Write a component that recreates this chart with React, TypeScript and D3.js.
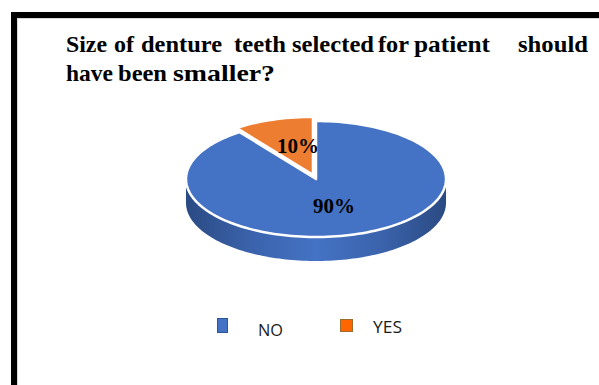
import React from "react";
import * as d3 from "d3";

const categories = ["NO", "YES"];
const values = [90, 10];
const labels = ["90%", "10%"];
const colors = ["#4472C4", "#ED7D31"];
const titleLine1 = ["Size", "of", "denture", "teeth", "selected", "for", "patient", "should"];
const titleLine1X = [66, 114, 141, 234, 292, 378, 414, 518];
const titleLine1W = [41, 20, 81, 52, 82, 31, 76, 70];
const titleLine2 = ["have", "been", "smaller?"];
const titleLine2X = [66, 118, 173];
const titleLine2W = [47, 49, 102];

const W = 599;
const H = 385;
const cx = 316;
const cy = 179;
const rx = 130;
const ry = 58;
const depth = 24;

function ellPt(a: number, ox: number, oy: number, dy = 0): [number, number] {
  return [cx + ox + rx * Math.sin(a), cy + oy + dy - ry * Math.cos(a)];
}

function topPath(a0: number, a1: number, ox: number, oy: number): string {
  const p = d3.path();
  p.moveTo(cx + ox, cy + oy);
  const n = Math.max(8, Math.ceil(((a1 - a0) / (2 * Math.PI)) * 180));
  for (let i = 0; i <= n; i++) {
    const a = a0 + ((a1 - a0) * i) / n;
    const [x, y] = ellPt(a, ox, oy);
    p.lineTo(x, y);
  }
  p.closePath();
  return p.toString();
}

function sidePath(a0: number, a1: number, ox: number, oy: number): string | null {
  const s = Math.max(a0, Math.PI / 2);
  const e = Math.min(a1, (3 * Math.PI) / 2);
  if (e <= s) return null;
  const p = d3.path();
  const n = 120;
  for (let i = 0; i <= n; i++) {
    const a = s + ((e - s) * i) / n;
    const [x, y] = ellPt(a, ox, oy);
    if (i === 0) p.moveTo(x, y);
    else p.lineTo(x, y);
  }
  for (let i = n; i >= 0; i--) {
    const a = s + ((e - s) * i) / n;
    const [x, y] = ellPt(a, ox, oy, depth);
    p.lineTo(x, y);
  }
  p.closePath();
  return p.toString();
}

export default function App() {
  const pie = d3
    .pie<number>()
    .sort(null)
    .startAngle(0)
    .endAngle(2 * Math.PI)
    .value((d) => d);
  const arcs = pie(values);
  const explode = [0, 0.075];

  const slices = arcs.map((a, i) => {
    const mid = (a.startAngle + a.endAngle) / 2;
    const ox = explode[i] * rx * Math.sin(mid);
    const oy = -explode[i] * ry * Math.cos(mid);
    return { a, i, ox, oy };
  });

  const labelPos: [number, number][] = [
    [334, 213],
    [298, 153],
  ];

  return (
    <svg
      width={W}
      height={H}
      style={{ position: "absolute", left: 0, top: 0, background: "#fff" }}
    >
      <defs>
        <linearGradient id="sideGrad" x1="0" x2="1" y1="0" y2="0">
          <stop offset="0" stopColor="#2a4a82" />
          <stop offset="0.25" stopColor="#3b63ac" />
          <stop offset="0.5" stopColor="#4472C4" />
          <stop offset="0.75" stopColor="#3b63ac" />
          <stop offset="1" stopColor="#2a4a82" />
        </linearGradient>
      </defs>
      <rect x={0} y={0} width={W} height={H} fill="#fff" />
      {/* frame */}
      <rect x={11} y={12} width={W} height={H} fill="#000" />
      <rect x={17} y={18} width={W} height={H} fill="#d9d9d9" />
      <rect x={18} y={19} width={W} height={H} fill="#fff" />

      {/* title */}
      <g fontFamily="'Liberation Serif', 'Times New Roman', serif" fontWeight="bold" fontSize={24} fill="#000">
        {titleLine1.map((w, i) => (
          <text key={w + i} x={titleLine1X[i]} y={52} textLength={titleLine1W[i]} lengthAdjust="spacingAndGlyphs">
            {w}
          </text>
        ))}
        {titleLine2.map((w, i) => (
          <text key={w + i} x={titleLine2X[i]} y={81} textLength={titleLine2W[i]} lengthAdjust="spacingAndGlyphs">
            {w}
          </text>
        ))}
      </g>

      {/* sides */}
      {slices.map(({ a, i, ox, oy }) => {
        const d = sidePath(a.startAngle, a.endAngle, ox, oy);
        return d ? <path key={"s" + i} d={d} fill={i === 0 ? "url(#sideGrad)" : "#b35c1e"} /> : null;
      })}
      {/* tops */}
      {slices.map(({ a, i, ox, oy }) => (
        <path
          key={"t" + i}
          d={topPath(a.startAngle, a.endAngle, ox, oy)}
          fill={colors[i]}
          stroke="#fff"
          strokeWidth={2.5}
          strokeLinejoin="round"
        />
      ))}
      {/* labels */}
      <g fontFamily="'Liberation Serif', 'Times New Roman', serif" fontWeight="bold" fontSize={21} fill="#000" textAnchor="middle">
        {labels.map((l, i) => (
          <text key={l} x={labelPos[i][0]} y={labelPos[i][1]}>
            {l}
          </text>
        ))}
      </g>

      {/* legend */}
      <rect x={217.5} y={318.5} width={10} height={14} fill="#4472C4" stroke="#2f5597" strokeWidth={1} />
      <rect x={340.5} y={319.5} width={12} height={12} fill="#FF6600" stroke="#9c6b2e" strokeWidth={1} />
      <g fontFamily="'Open Sans', 'Liberation Sans', Arial, sans-serif" fontSize={16} fill="#1a1a1a">
        <text x={258} y={336} textLength={25} lengthAdjust="spacingAndGlyphs">
          {categories[0]}
        </text>
        <text x={373} y={333} textLength={29} lengthAdjust="spacingAndGlyphs">
          {categories[1]}
        </text>
      </g>
    </svg>
  );
}
